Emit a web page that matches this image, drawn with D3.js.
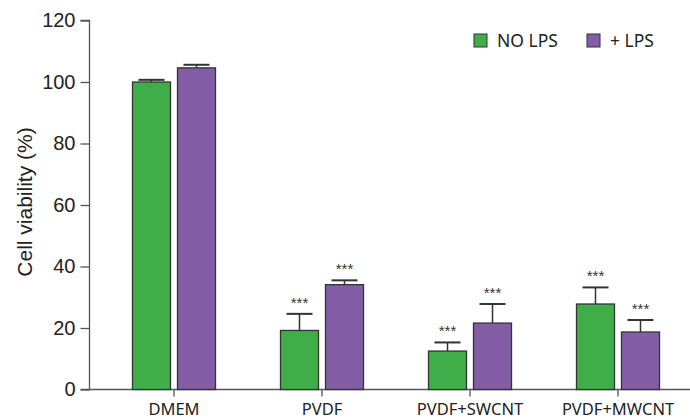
<!DOCTYPE html>
<html>
<head>
<meta charset="utf-8">
<script src="https://cdn.jsdelivr.net/npm/d3@7"></script>
<style>
  body { margin: 0; background: #fff; }
  svg { display: block; font-family: "Liberation Sans", Arial, sans-serif; }
</style>
</head>
<body>
<svg id="chart" width="690" height="420"></svg>
<script>
const categories = ["DMEM", "PVDF", "PVDF+SWCNT", "PVDF+MWCNT"];
const seriesNames = ["NO LPS", "+ LPS"];
const noLps = [100, 19.2, 12.5, 27.8];
const noLpsErr = [0.7, 5.4, 2.8, 5.4];
const plusLps = [104.6, 34.1, 21.6, 18.7];
const plusLpsErr = [1.0, 1.4, 6.2, 3.9];
const noLpsSig = ["", "***", "***", "***"];
const plusLpsSig = ["", "***", "***", "***"];
const yTicks = [0, 20, 40, 60, 80, 100, 120];

const colors = ["#3fae49", "#835ea6"];
const labelFont = "'Noto Sans', 'Open Sans', sans-serif";

const svg = d3.select("#chart");
const width = 690, axisX = 89.5;

const x = d3.scaleLinear()
    .domain([-0.5, categories.length - 0.5])
    .range([100, 692]);
const y = d3.scaleLinear()
    .domain([0, 120])
    .range([389.5, 20.5]);

const barW = 38, gap = 3.5;

const series = [
    { name: seriesNames[0], values: noLps, err: noLpsErr, sig: noLpsSig, off: -gap - barW, color: colors[0] },
    { name: seriesNames[1], values: plusLps, err: plusLpsErr, sig: plusLpsSig, off: gap, color: colors[1] }
];

// x axis line
svg.append("line")
    .attr("x1", axisX).attr("x2", width)
    .attr("y1", y(0)).attr("y2", y(0))
    .attr("stroke", "#555").attr("stroke-width", 1.3);

const yAxis = d3.axisLeft(y).tickValues(yTicks).tickSize(9).tickPadding(5);
svg.append("g")
    .attr("transform", `translate(${axisX},0)`)
    .call(yAxis)
    .call(g => g.selectAll("path,line").attr("stroke", "#555").attr("stroke-width", 1.3))
    .call(g => g.select(".domain").attr("d", `M-9,${y(120)}H0V${y(0)}H-9`))
    .call(g => g.selectAll("text").attr("fill", "#222").attr("font-size", 20)
        .attr("font-family", "Liberation Sans, Arial, sans-serif"));

// category ticks + labels
const cat = svg.append("g");
categories.forEach((c, i) => {
    cat.append("line")
        .attr("x1", x(i)).attr("x2", x(i))
        .attr("y1", y(0)).attr("y2", y(0) + 7)
        .attr("stroke", "#555").attr("stroke-width", 1.3);
    cat.append("text")
        .attr("x", x(i)).attr("y", 415)
        .attr("text-anchor", "middle")
        .attr("font-family", labelFont)
        .attr("font-size", 16.5).attr("fill", "#222")
        .text(c);
});

// bars, error bars, stars
series.forEach(s => {
    const g = svg.append("g");
    g.selectAll("line.err")
        .data(s.values)
        .enter().append("line")
        .attr("x1", (d, i) => x(i) + s.off + barW / 2)
        .attr("x2", (d, i) => x(i) + s.off + barW / 2)
        .attr("y1", d => y(d))
        .attr("y2", (d, i) => y(d + s.err[i]))
        .attr("stroke", "#333").attr("stroke-width", 1.5);
    g.selectAll("line.cap")
        .data(s.values)
        .enter().append("line")
        .attr("x1", (d, i) => x(i) + s.off + barW / 2 - 13)
        .attr("x2", (d, i) => x(i) + s.off + barW / 2 + 13)
        .attr("y1", (d, i) => y(d + s.err[i]))
        .attr("y2", (d, i) => y(d + s.err[i]))
        .attr("stroke", "#333").attr("stroke-width", 2);
    g.selectAll("rect")
        .data(s.values)
        .enter().append("rect")
        .attr("x", (d, i) => x(i) + s.off)
        .attr("y", d => y(d))
        .attr("width", barW)
        .attr("height", d => y(0) - y(d))
        .attr("fill", s.color)
        .attr("stroke", "#333").attr("stroke-width", 1.3);
    g.selectAll("text")
        .data(s.values)
        .enter().append("text")
        .attr("x", (d, i) => x(i) + s.off + barW / 2)
        .attr("y", (d, i) => y(d + s.err[i]) - 6)
        .attr("text-anchor", "middle")
        .attr("font-size", 15).attr("fill", "#333")
        .text((d, i) => s.sig[i]);
});

// y title
svg.append("text")
    .attr("transform", `translate(32,202) rotate(-90)`)
    .attr("text-anchor", "middle")
    .attr("font-size", 21).attr("fill", "#222")
    .text("Cell viability (%)");

// legend
const legend = svg.append("g");
const legendX = [474, 587];
series.forEach((s, i) => {
    legend.append("rect")
        .attr("x", legendX[i]).attr("y", 34)
        .attr("width", 13).attr("height", 13)
        .attr("fill", s.color).attr("stroke", "#333").attr("stroke-width", 1);
    legend.append("text")
        .attr("x", legendX[i] + 23).attr("y", 47)
        .attr("font-family", labelFont)
        .attr("font-size", 17.5).attr("fill", "#222")
        .text(s.name);
});
</script>
</body>
</html>
